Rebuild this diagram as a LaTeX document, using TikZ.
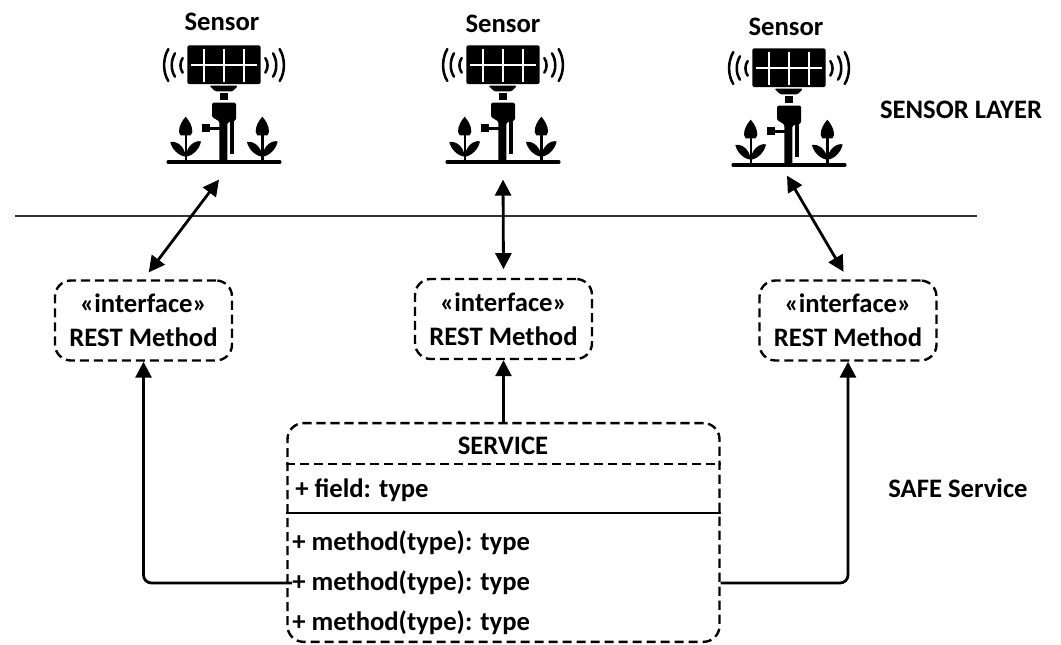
\documentclass[tikz,border=0pt]{standalone}
\usepackage{fontspec}
\setmainfont{Carlito}
\usetikzlibrary{arrows.meta}
\tikzset{
  lbl/.style={font=\bfseries\fontsize{20}{25.5}\selectfont,inner sep=0pt,text=black},
  lblleft/.style={lbl,anchor=west},
  dashbox/.style={draw=black,line width=1.8pt,dash pattern=on 6.8pt off 3.7pt,rounded corners=12pt,inner sep=0pt},
  iface/.style={dashbox,lbl,align=center,minimum width=132.75pt,minimum height=60pt},
  servicebox/.style={dashbox,minimum width=324pt,minimum height=164pt},
  sensorbox/.style={inner sep=0pt,minimum width=84pt,minimum height=101pt},
  conn/.style={line width=2.1pt,-{Triangle[length=12pt,width=12pt]},rounded corners=6pt},
  biconn/.style={line width=2.1pt,{Triangle[length=12pt,width=12pt]}-{Triangle[length=12pt,width=12pt]}},
  divline/.style={line width=1.9pt},
  sep/.style={line width=1.1pt,draw=black!80},
  sensor/.pic={
    \begin{scope}[x=0.25pt,y=-0.25pt]
      \fill[rounded corners=1.5pt] (-110,-350) rectangle (110,-234);
      \draw[white,line width=0.9pt] (-100,-291) -- (100,-291);
      \foreach \vx in {-60,0,60} \draw[white,line width=0.9pt] (\vx,-340) -- (\vx,-240);
      \fill[rounded corners=1pt] (-44,-229) -- (42,-229) -- (26,-212) -- (-26,-212) -- cycle;
      \fill (-11,-208) rectangle (11,-186);
      \fill[rounded corners=1pt] (-36,-178) -- (36,-178) -- (36,-125) -- (10,-118) -- (10,0) -- (-14,0) -- (-14,-122) -- (-36,-135) -- cycle;
      \fill (19,-124) rectangle (30,-24);
      \fill (-66,-113) rectangle (-43,-91);
      \fill (-43,-106) rectangle (-13,-97);
      \draw[line width=2.3pt,line cap=round] (-168,0) -- (168,0);
      \foreach \px in {-115,115} {
        \begin{scope}[shift={(\px,0)}]
          \fill (0,-136) .. controls (12,-122) and (20,-108) .. (20,-90) -- (15,-80) -- (-15,-80) -- (-20,-90) .. controls (-20,-108) and (-12,-122) .. (0,-136) -- cycle;
          \fill (-3.5,-85) rectangle (3.5,0);
          \fill (0,-16) .. controls (-22,-18) and (-42,-40) .. (-46,-60) .. controls (-25,-64) and (-2,-45) .. (0,-16) -- cycle;
          \fill (0,-16) .. controls (22,-18) and (42,-40) .. (46,-62) .. controls (25,-66) and (2,-45) .. (0,-16) -- cycle;
        \end{scope}
      }
      \foreach \sgn in {-1,1} {
        \begin{scope}[xscale=\sgn]
          \draw[line width=1.9pt,line cap=round] (124,-312) .. controls (133,-298) and (133,-282) .. (124,-268);
          \draw[line width=1.9pt,line cap=round] (147,-326) .. controls (160,-305) and (160,-275) .. (147,-256);
          \draw[line width=1.9pt,line cap=round] (167,-339) .. controls (184,-310) and (184,-270) .. (167,-243);
        \end{scope}
      }
    \end{scope}
  }
}
\begin{document}
\begin{tikzpicture}[x=0.75pt,y=-0.75pt]
  \useasboundingbox (0,0) rectangle (1061,644);
  % sensors
  \pic at (224,162) {sensor};
  \pic at (503,162) {sensor};
  \pic at (789,165) {sensor};
  \node[sensorbox] (sensor1) at (224,112) {};
  \node[sensorbox] (sensor2) at (503,112) {};
  \node[sensorbox] (sensor3) at (789,108) {};
  \node[lbl] (slabel1) at (222,22) {Sensor};
  \node[lbl] (slabel2) at (503,24) {Sensor};
  \node[lbl] (slabel3) at (786,27) {Sensor};
  \node[lbl] (layer) at (961,110) {SENSOR LAYER};
  \node[lbl] (safe) at (958,488) {SAFE Service};
  % separator
  \coordinate (sepL) at (15,216);
  \coordinate (sepR) at (977,216);
  \draw[sep] (sepL) -- (sepR);
  % interfaces
  \node[iface] (if1) at (143.5,320.5) {«interface»\\REST Method};
  \node[iface] (if2) at (503.5,319) {«interface»\\REST Method};
  \node[iface] (if3) at (848,320.5) {«interface»\\REST Method};
  % service
  \node[servicebox] (service) at (503.5,532.5) {};
  \node[lbl] (title) at (503,446) {SERVICE};
  \node[lblleft] (field) at (295,490) {+ field: type};
  \node[lblleft] (m1) at (292,543) {+ method(type): type};
  \node[lblleft] (m2) at (292,583) {+ method(type): type};
  \node[lblleft] (m3) at (292,623) {+ method(type): type};
  \draw[divline,dash pattern=on 6.8pt off 3.7pt] (service.west |- 0,464) -- (service.east |- 0,464);
  \draw[divline] (service.west |- 0,513) -- (service.east |- 0,513);
  % connectors
  \draw[biconn,shorten >=6.5pt] ([xshift=-3.75pt]sensor1.south) -- (if1.north);
  \draw[biconn] (sensor2.south) -- ([yshift=6.5pt]if2.north);
  \draw[biconn,shorten >=6.5pt] ([xshift=-1.5pt]sensor3.south) -- (if3.north);
  \draw[conn] (service.north) -- (if2.south);
  \draw[conn] (m2.west) -- (if1.south |- m2.west) -- (if1.south);
  \draw[conn] (service.east |- m2.west) -- (if3.south |- m2.west) -- (if3.south);
\end{tikzpicture}
\end{document}
